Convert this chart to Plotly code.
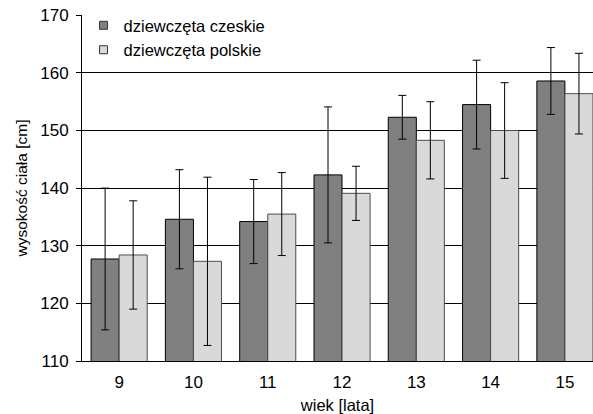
import plotly.graph_objects as go

ages = ["9", "10", "11", "12", "13", "14", "15"]
czech_mean = [127.7, 134.6, 134.2, 142.3, 152.3, 154.5, 158.6]
czech_sd = [12.3, 8.6, 7.3, 11.8, 3.8, 7.7, 5.8]
polish_mean = [128.4, 127.3, 135.5, 139.1, 148.3, 150.0, 156.4]
polish_sd = [9.4, 14.6, 7.2, 4.7, 6.7, 8.3, 7.0]
y_ticks = [110, 120, 130, 140, 150, 160, 170]
series_names = ["dziewczęta czeskie", "dziewczęta polskie"]
series_colors = ["#808080", "#d9d9d9"]
series_edges = ["#000000", "#4d4d4d"]

FONT = "Liberation Sans, Arial, sans-serif"

fig = go.Figure()
for name, mean, sd, col, edge in zip(series_names, [czech_mean, polish_mean],
                                     [czech_sd, polish_sd], series_colors, series_edges):
    fig.add_trace(go.Bar(
        x=ages, y=mean, name=name, showlegend=False, legendgroup=name,
        marker=dict(color=col, line=dict(color=edge, width=1)),
        error_y=dict(type="data", array=sd, visible=True,
                     color="#000000", thickness=1, width=4),
    ))
# legend entries with small square swatches
for name, col in zip(series_names, series_colors):
    fig.add_trace(go.Scatter(
        x=[None], y=[None], mode="markers", name=name, legendgroup=name,
        marker=dict(symbol="square", size=8, color=col,
                    line=dict(color="#333333", width=1)),
    ))

fig.update_layout(
    width=593, height=414,
    margin=dict(l=82, r=0, t=15, b=53),
    paper_bgcolor="white", plot_bgcolor="white",
    barmode="group", bargap=0.245, bargroupgap=0,
    font=dict(family=FONT, size=17, color="#000000"),
    legend=dict(x=0.003, y=1.02, xanchor="left", yanchor="top",
                bgcolor="white", borderwidth=0,
                font=dict(size=16.5), tracegroupgap=0),
    xaxis=dict(
        type="category", range=[-0.5, 6.378],
        showline=True, linecolor="#000000", linewidth=1,
        ticks="", showgrid=False, ticklabelstandoff=6,
        title=dict(text="wiek [lata]", font=dict(size=16.5), standoff=10),
    ),
    yaxis=dict(
        range=[110, 170.05], tickvals=y_ticks,
        showline=True, linecolor="#000000", linewidth=1,
        ticks="outside", ticklen=5, tickcolor="#000000",
        showgrid=True, gridcolor="#000000", gridwidth=1,
        zeroline=False, ticklabelstandoff=4,
        title=dict(text="wysokość ciała [cm]", font=dict(size=15.5), standoff=8),
    ),
)

fig.write_html("out.html", config={"displayModeBar": False},
               post_script="document.body.style.margin='0';")
